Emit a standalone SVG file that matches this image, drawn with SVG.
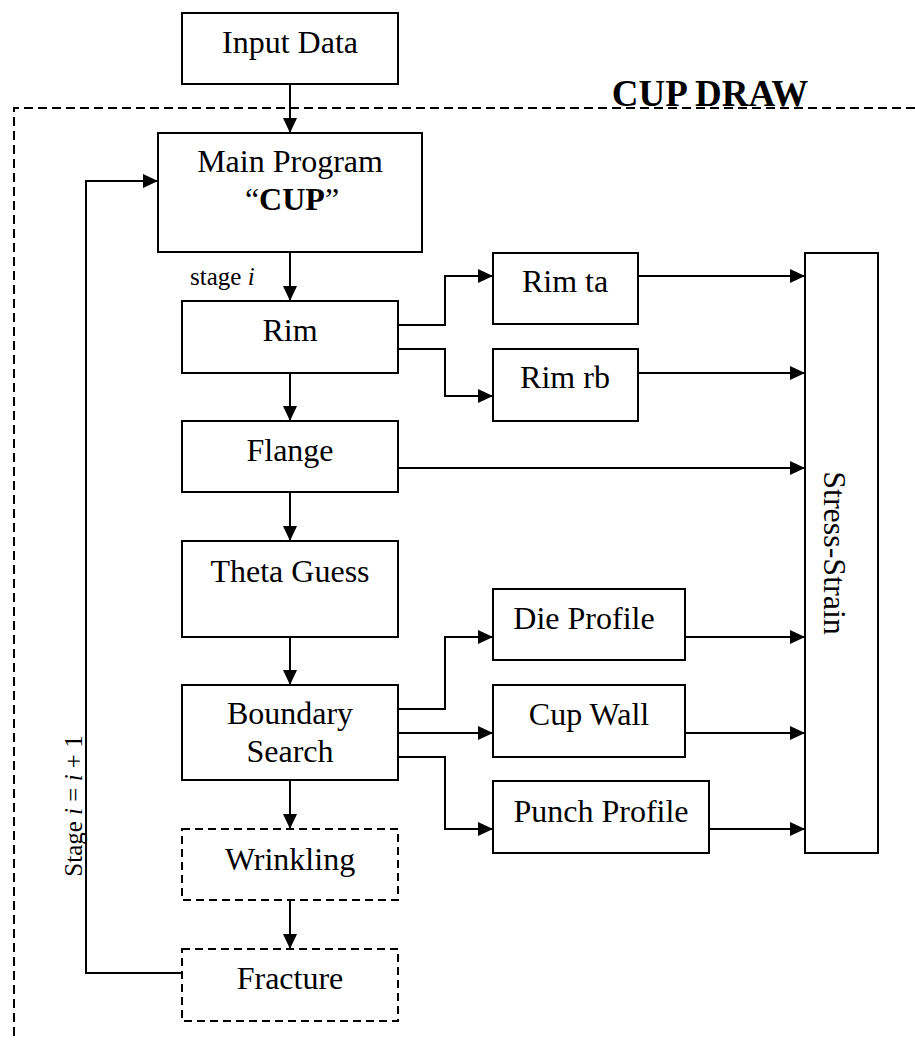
<svg xmlns="http://www.w3.org/2000/svg" width="915" height="1040" viewBox="0 0 915 1040">
<style>
.box{fill:#fff;stroke:#000;stroke-width:2}
.dbox{fill:#fff;stroke:#000;stroke-width:2;stroke-dasharray:8 5}
.t{font-family:"Liberation Serif","Times New Roman",serif;font-size:32px;fill:#000;text-anchor:middle}
.s{font-family:"Liberation Serif","Times New Roman",serif;font-size:25px;fill:#000}
.c{fill:none;stroke:#000;stroke-width:2}
</style>
<defs>
<marker id="ah" markerUnits="userSpaceOnUse" markerWidth="15" markerHeight="14" refX="15" refY="7" orient="auto">
<path d="M0,0 L15,7 L0,14 z" fill="#000"/>
</marker>
</defs>
<g id="frame">
<path d="M915,108 H14 V1040" fill="none" stroke="#000" stroke-width="2" stroke-dasharray="9 5"/>
<text x="710" y="106" font-family="Liberation Serif,'Times New Roman',serif" font-size="37" font-weight="bold" text-anchor="middle">CUP DRAW</text>
</g>
<g id="connectors">
<path class="c" d="M290,84 V133" marker-end="url(#ah)"/>
<path class="c" d="M290,252 V301" marker-end="url(#ah)"/>
<path class="c" d="M290,373 V421" marker-end="url(#ah)"/>
<path class="c" d="M290,492 V541" marker-end="url(#ah)"/>
<path class="c" d="M290,637 V685" marker-end="url(#ah)"/>
<path class="c" d="M290,780 V829" marker-end="url(#ah)"/>
<path class="c" d="M290,900 V949" marker-end="url(#ah)"/>
<path class="c" d="M182,973 H86 V181 H158" marker-end="url(#ah)"/>
<path class="c" d="M398,325 H445 V276 H493" marker-end="url(#ah)"/>
<path class="c" d="M398,349 H445 V396 H493" marker-end="url(#ah)"/>
<path class="c" d="M638,276 H805" marker-end="url(#ah)"/>
<path class="c" d="M638,373 H805" marker-end="url(#ah)"/>
<path class="c" d="M398,468 H805" marker-end="url(#ah)"/>
<path class="c" d="M398,709 H445 V637 H493" marker-end="url(#ah)"/>
<path class="c" d="M398,733 H493" marker-end="url(#ah)"/>
<path class="c" d="M398,757 H445 V829 H493" marker-end="url(#ah)"/>
<path class="c" d="M685,637 H805" marker-end="url(#ah)"/>
<path class="c" d="M685,733 H805" marker-end="url(#ah)"/>
<path class="c" d="M709,829 H805" marker-end="url(#ah)"/>
<text class="s" x="190" y="285">stage <tspan font-style="italic">i</tspan></text>
<text class="s" transform="translate(82,806) rotate(-90)" text-anchor="middle">Stage <tspan font-style="italic">i</tspan> = <tspan font-style="italic">i</tspan> + 1</text>
</g>
<g id="input">
<rect class="box" x="182" y="13" width="216" height="71"/>
<text class="t" x="290" y="53">Input Data</text>
</g>
<g id="main">
<rect class="box" x="158" y="133" width="264" height="119"/>
<text class="t" x="290" y="172">Main Program</text>
<text class="t" x="292" y="210">“<tspan font-weight="bold">CUP</tspan>”</text>
</g>
<g id="rim">
<rect class="box" x="182" y="301" width="216" height="72"/>
<text class="t" x="290" y="341">Rim</text>
</g>
<g id="flange">
<rect class="box" x="182" y="421" width="216" height="71"/>
<text class="t" x="290" y="461">Flange</text>
</g>
<g id="theta">
<rect class="box" x="182" y="541" width="216" height="96"/>
<text class="t" x="290" y="582">Theta Guess</text>
</g>
<g id="boundary">
<rect class="box" x="182" y="685" width="216" height="95"/>
<text class="t" x="290" y="724">Boundary</text>
<text class="t" x="290" y="762">Search</text>
</g>
<g id="wrinkling">
<rect class="dbox" x="182" y="829" width="216" height="71"/>
<text class="t" x="290" y="870">Wrinkling</text>
</g>
<g id="fracture">
<rect class="dbox" x="182" y="949" width="216" height="72"/>
<text class="t" x="290" y="989">Fracture</text>
</g>
<g id="rimta">
<rect class="box" x="493" y="253" width="145" height="71"/>
<text class="t" x="565" y="292">Rim ta</text>
</g>
<g id="rimrb">
<rect class="box" x="493" y="349" width="145" height="72"/>
<text class="t" x="565" y="388">Rim rb</text>
</g>
<g id="die">
<rect class="box" x="493" y="589" width="192" height="71"/>
<text class="t" x="584" y="629">Die Profile</text>
</g>
<g id="cupwall">
<rect class="box" x="493" y="685" width="192" height="72"/>
<text class="t" x="589" y="725">Cup Wall</text>
</g>
<g id="punch">
<rect class="box" x="493" y="781" width="216" height="72"/>
<text class="t" x="601" y="822">Punch Profile</text>
</g>
<g id="stress">
<rect class="box" x="805" y="253" width="73" height="600"/>
<text class="t" transform="translate(824,553) rotate(90)">Stress-Strain</text>
</g>
</svg>
